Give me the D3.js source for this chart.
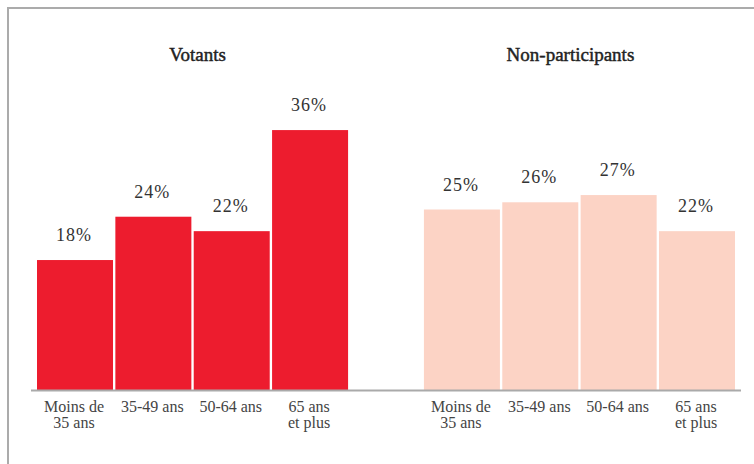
<!DOCTYPE html>
<html>
<head>
<meta charset="utf-8">
<script src="https://cdn.jsdelivr.net/npm/d3@7"></script>
<style>
  html, body { margin: 0; padding: 0; background: #fff; }
  svg { display: block; font-family: "Liberation Serif", "DejaVu Serif", serif; }
</style>
</head>
<body>
<div id="chart"></div>
<script>
// données
const groups = ["Votants", "Non-participants"];
const ages = ["Moins de\n35 ans", "35-49 ans", "50-64 ans", "65 ans\net plus"];
const votants = [18, 24, 22, 36];
const nonParticipants = [25, 26, 27, 22];

const W = 754, H = 464;
const baseY = 390;

const svg = d3.select("#chart")
  .append("svg")
  .attr("width", W)
  .attr("height", H);

// cadre gris (coupé à droite et en bas)
svg.append("rect")
  .attr("x", 8).attr("y", 8)
  .attr("width", 780).attr("height", 500)
  .attr("fill", "none")
  .attr("stroke", "#ababab")
  .attr("stroke-width", 2);

const x0 = d3.scaleBand()
  .domain(groups)
  .range([37, 735])
  .paddingInner(0.196)
  .paddingOuter(0);

const x1 = d3.scaleBand()
  .domain(ages)
  .range([0, x0.bandwidth()])
  .paddingInner(0.03)
  .paddingOuter(0);

const y = d3.scaleLinear()
  .domain([0, 40])
  .range([baseY, baseY - 40 * 7.22]);

const colors = { "Votants": "#ed1c2e", "Non-participants": "#fcd3c5" };
const values = { "Votants": votants, "Non-participants": nonParticipants };
const titleShift = { "Votants": 5, "Non-participants": -9 };

groups.forEach(g => {
  const panel = svg.append("g").attr("transform", `translate(${x0(g)},0)`);
  const rows = ages.map((a, i) => ({ age: a, value: values[g][i] }));

  panel.append("text")
    .attr("x", x0.bandwidth() / 2 + titleShift[g])
    .attr("y", 61)
    .attr("text-anchor", "middle")
    .attr("font-size", 19)
    .attr("fill", "#222")
    .attr("stroke", "#222")
    .attr("stroke-width", 0.45)
    .text(g);

  panel.selectAll("text.val")
    .data(rows)
    .join("text")
    .attr("class", "val")
    .attr("x", d => x1(d.age) + x1.bandwidth() / 2 - 1)
    .attr("y", d => y(d.value) - 19)
    .attr("text-anchor", "middle")
    .attr("font-size", 18)
    .attr("letter-spacing", 1)
    .attr("fill", "#333")
    .text(d => d.value + "%");

  panel.selectAll("rect.bar")
    .data(rows)
    .join("rect")
    .attr("class", "bar")
    .attr("x", d => x1(d.age))
    .attr("y", d => y(d.value))
    .attr("width", x1.bandwidth())
    .attr("height", d => baseY - y(d.value))
    .attr("fill", colors[g]);

  // libellés d'âge, une ligne par text
  ages.forEach(a => {
    a.split("\n").forEach((line, i) => {
      panel.append("text")
        .attr("class", "tick")
        .attr("x", x1(a) + x1.bandwidth() / 2 - 1)
        .attr("y", 412 + i * 16)
        .attr("text-anchor", "middle")
        .attr("font-size", 16)
        .attr("fill", "#444")
        .text(line);
    });
  });
});

// ligne de base
svg.append("line")
  .attr("x1", x0.range()[0] - 6)
  .attr("x2", x0.range()[1] + 6)
  .attr("y1", baseY + 0.5)
  .attr("y2", baseY + 0.5)
  .attr("stroke", "#aaa")
  .attr("stroke-width", 2);
</script>
</body>
</html>
